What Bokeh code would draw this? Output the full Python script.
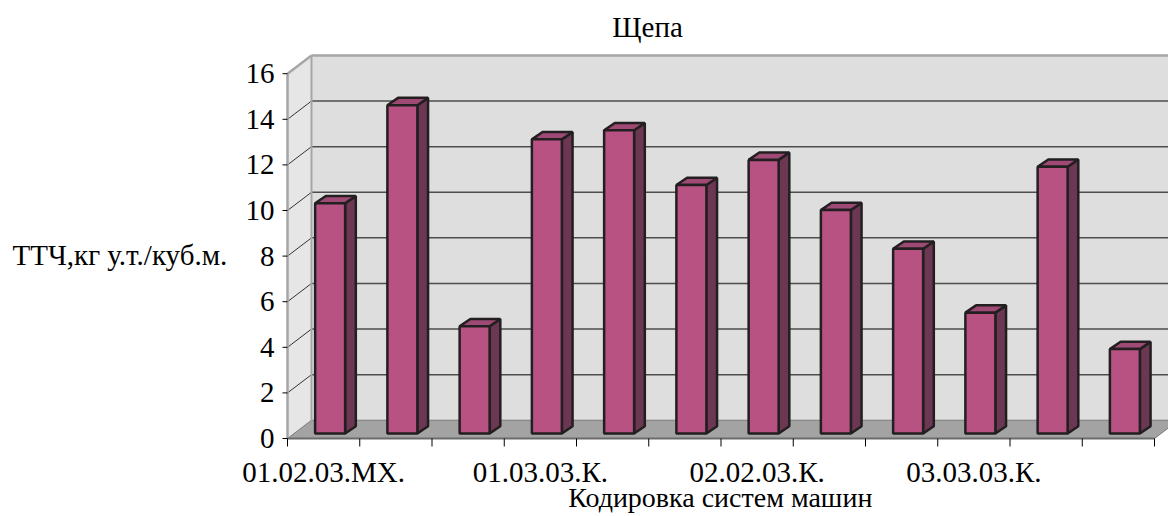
from bokeh.plotting import figure
from bokeh.models import Range1d
from bokeh.core.properties import value
from bokeh.embed import file_html
from bokeh.resources import INLINE

# Chip fuel intensity by machine-system code
values = [10.1, 14.4, 4.7, 12.9, 13.3, 10.9, 12.0, 9.8, 8.1, 5.3, 11.7, 3.7]
tick_labels = ["01.02.03.МХ.", "01.03.03.К.", "02.02.03.К.", "03.03.03.К."]
label_index = [0, 3, 6, 9]
y_ticks = [0, 2, 4, 6, 8, 10, 12, 14, 16]

title_text = "Щепа"
y_title = "ТТЧ,кг у.т./куб.м."
x_title = "Кодировка систем машин"

FONT = value("serif")
FS = "29px"

n = len(values)
y_max = y_ticks[-1]

# scale: one category = 72.25 px, one unit = 22.8 px; front axes meet at (287, 438)
PX_X, PX_Y = 72.25, 22.8
OX, OY = 287, 438

# pseudo-3D geometry (category units / value units)
DX, DY = 0.332, 0.8          # depth of the walls
HW = 0.2075                  # half width of a bar's front face
SX, SY = 0.09, 0.22          # bar placement inside the depth
BDX, BDY = 0.148, 0.32       # bar depth

p = figure(width=1168, height=516, output_backend="svg", toolbar_location=None,
           x_range=Range1d(-OX / PX_X, (1168 - OX) / PX_X),
           y_range=Range1d((OY - 516) / PX_Y, OY / PX_Y),
           x_axis_location=None, y_axis_location=None,
           min_border_left=0, min_border_right=0, min_border_top=0, min_border_bottom=0)
p.outline_line_color = None
p.grid.visible = False
p.background_fill_color = "white"
p.border_fill_color = "white"

# walls and floor
p.quad(left=[DX], right=[n + DX], bottom=[DY], top=[y_max + DY],
       fill_color="#dedede", line_color=None)
p.patch([0, 0, DX, DX], [0, y_max, y_max + DY, DY], fill_color="#e6e6e6", line_color=None)
p.patch([0, n, n + DX, DX], [0, 0, DY, DY], fill_color="#a3a3a3",
        line_color="#7a7a7a", line_width=1)

grid_vals = [v for v in y_ticks if 0 < v < y_max]
p.multi_line([[DX, n + DX] for v in grid_vals], [[v + DY, v + DY] for v in grid_vals],
             line_color="#4d4d4d", line_width=1.5)
p.multi_line([[0, DX] for v in grid_vals], [[v, v + DY] for v in grid_vals],
             line_color="#333333", line_width=1)

edge = "#a6a6a6"
p.line([0, 0], [0, y_max], line_color=edge, line_width=2.5)
p.line([0, DX], [y_max, y_max + DY], line_color=edge, line_width=2.5)
p.line([DX, n + DX], [y_max + DY, y_max + DY], line_color=edge, line_width=2.5)
p.line([DX, DX], [DY, y_max + DY], line_color=edge, line_width=2)
p.line([0, n], [0, 0], line_color="#6b6b6b", line_width=2)

# bars
centers = [i + 0.5 + SX for i in range(n)]
lefts = [c - HW for c in centers]
rights = [c + HW for c in centers]
tops = [SY + v for v in values]

side_xs = [[r, r + BDX, r + BDX, r] for r in rights]
side_ys = [[SY, SY + BDY, t + BDY, t] for t in tops]
top_xs = [[l, r, r + BDX, l + BDX] for l, r in zip(lefts, rights)]
top_ys = [[t, t, t + BDY, t + BDY] for t in tops]

outline = "#231f20"
p.patches(side_xs, side_ys, fill_color="#6b3752", line_color=outline, line_width=2.5)
p.patches(top_xs, top_ys, fill_color="#9e4a74", line_color=outline, line_width=2.5)
p.quad(left=lefts, right=rights, bottom=SY, top=tops,
       fill_color="#b85282", line_color=outline, line_width=2.5)

# value axis: ticks and labels
tick_len_y = 5 / PX_X
p.segment(x0=[-tick_len_y] * len(y_ticks), y0=y_ticks, x1=[0] * len(y_ticks), y1=y_ticks,
          line_color="black", line_width=1)
p.text(x=[-13 / PX_X] * len(y_ticks), y=y_ticks, text=[str(t) for t in y_ticks],
       text_align="right", text_baseline="middle", text_font=FONT,
       text_font_size=FS, text_color="black")

# category axis: ticks between categories, labels on every third category
tick_len_x = 8 / PX_Y
p.segment(x0=list(range(n + 1)), y0=[0] * (n + 1), x1=list(range(n + 1)),
          y1=[-tick_len_x] * (n + 1), line_color="black", line_width=1)
p.text(x=[i + 0.5 for i in label_index], y=[-1.45] * len(label_index), text=tick_labels,
       text_align="center", text_baseline="middle", text_font=FONT,
       text_font_size=FS, text_color="black")

# titles
p.text(x=[4.983], y=[18.03], text=[title_text], text_align="center",
       text_baseline="middle", text_font=FONT, text_font_size=FS, text_color="black")
p.text(x=[-3.806], y=[8.07], text=[y_title], text_align="left",
       text_baseline="middle", text_font=FONT, text_font_size=FS, text_color="black")
p.text(x=[5.99], y=[-2.6], text=[x_title], text_align="center",
       text_baseline="middle", text_font=FONT, text_font_size="28px", text_color="black")

open("out.html", "w").write(file_html(p, INLINE))
